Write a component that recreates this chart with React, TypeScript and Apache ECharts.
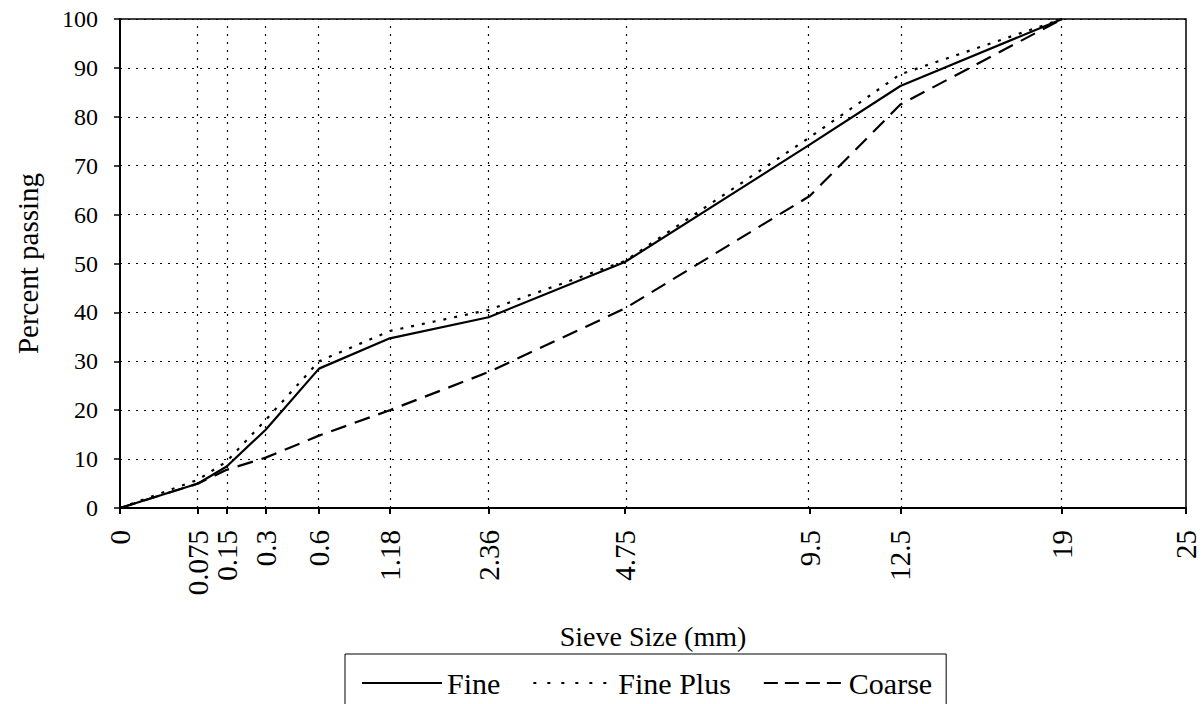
import React, { useEffect, useRef } from "react";
import * as echarts from "echarts";

const sieveSizes = [0, 0.075, 0.15, 0.3, 0.6, 1.18, 2.36, 4.75, 9.5, 12.5, 19];
const tickLabels = ["0", "0.075", "0.15", "0.3", "0.6", "1.18", "2.36", "4.75", "9.5", "12.5", "19", "25"];
const tickSizes = [0, 0.075, 0.15, 0.3, 0.6, 1.18, 2.36, 4.75, 9.5, 12.5, 19, 25];
const fine = [0, 5, 8.5, 16, 28.5, 34.7, 39, 50.3, 74.3, 86.3, 100];
const finePlus = [0, 5.8, 9.5, 18, 30, 36.2, 40.5, 50.5, 75.8, 88.7, 100];
const coarse = [0, 5, 7.8, 10.3, 14.8, 20, 27.8, 40.8, 63.8, 82.5, 100];

const POWER = 0.45;
const tf = (v: number) => Math.pow(v, POWER);
const FONT = "Liberation Serif";

export default function App() {
  const ref = useRef<HTMLDivElement>(null);
  useEffect(() => {
    if (!ref.current) return;
    const chart = echarts.init(ref.current, null, { renderer: "svg" });
    const tickVals = tickSizes.map(tf);
    const toData = (ys: number[]) => sieveSizes.map((s, i) => [tf(s), ys[i]]);
    const labelFor = (v: number) => {
      for (let i = 0; i < tickVals.length; i++) {
        if (Math.abs(tickVals[i] - v) < 1e-6) return tickLabels[i];
      }
      return "";
    };
    chart.setOption({
      animation: false,
      backgroundColor: "#fff",
      grid: {
        left: 120,
        right: 17,
        top: 19,
        bottom: 196,
        containLabel: false,
        outerBoundsMode: "none",
        show: true,
        borderColor: "#000",
        borderWidth: 1.5,
        backgroundColor: "transparent",
      },
      legend: {
        left: 345,
        top: 654,
        itemWidth: 80,
        itemHeight: 16,
        itemGap: 32,
        padding: [14, 14, 24, 16],
        borderColor: "#000",
        borderWidth: 1,
        itemStyle: { opacity: 0 },
        textStyle: { fontFamily: FONT, fontSize: 30, color: "#000" },
        data: [
          { name: "Fine" },
          { name: "Fine Plus", lineStyle: { type: [3, 11] } },
          { name: "Coarse", lineStyle: { type: [14, 7] } },
        ],
      },
      xAxis: {
        type: "value",
        min: 0,
        max: tf(25),
        name: "Sieve Size (mm)",
        nameLocation: "middle",
        nameGap: 114,
        nameMoveOverlap: false,
        nameTextStyle: { fontFamily: FONT, fontSize: 28, color: "#000" },
        axisLine: { show: true, lineStyle: { color: "#000", width: 2 } },
        axisTick: {
          show: true,
          customValues: tickVals,
          length: 6,
          lineStyle: { color: "#000", width: 2 },
        },
        axisLabel: {
          customValues: tickVals,
          rotate: 90,
          margin: 22,
          fontFamily: FONT,
          fontSize: 29,
          color: "#000",
          formatter: (v: number) => labelFor(v),
        },
        splitLine: { show: false },
      },
      yAxis: {
        type: "value",
        min: 0,
        max: 100,
        interval: 10,
        name: "Percent passing",
        nameLocation: "middle",
        nameGap: 78,
        nameMoveOverlap: false,
        nameTextStyle: { fontFamily: FONT, fontSize: 29, color: "#000" },
        axisLine: { show: true, lineStyle: { color: "#000", width: 2 } },
        axisTick: { show: true, length: 6, lineStyle: { color: "#000", width: 1.5 } },
        axisLabel: { margin: 22, fontFamily: FONT, fontSize: 24, color: "#000" },
        splitLine: { show: true, lineStyle: { color: "#000", width: 1.2, type: [2, 6] } },
      },
      series: [
        {
          name: "Fine",
          type: "line",
          data: toData(fine),
          showSymbol: false,
          symbol: "none",
          lineStyle: { color: "#000", width: 2.2, type: "solid" },
          itemStyle: { color: "#000" },
          markLine: {
            silent: true,
            symbol: "none",
            label: { show: false },
            lineStyle: { color: "#000", width: 1.2, type: [2, 6] },
            data: tickVals.slice(1, -1).map((v) => ({ xAxis: v })),
          },
          z: 3,
        },
        {
          name: "Fine Plus",
          type: "line",
          data: toData(finePlus),
          showSymbol: false,
          symbol: "none",
          lineStyle: { color: "#000", width: 2.2, type: [3, 8] },
          itemStyle: { color: "#000" },
          z: 3,
        },
        {
          name: "Coarse",
          type: "line",
          data: toData(coarse),
          showSymbol: false,
          symbol: "none",
          lineStyle: { color: "#000", width: 2.2, type: [16, 9] },
          itemStyle: { color: "#000" },
          z: 3,
        },
      ],
    });
    return () => chart.dispose();
  }, []);
  return <div ref={ref} style={{ width: 1203, height: 704, position: "absolute", left: 0, top: 0 }} />;
}
